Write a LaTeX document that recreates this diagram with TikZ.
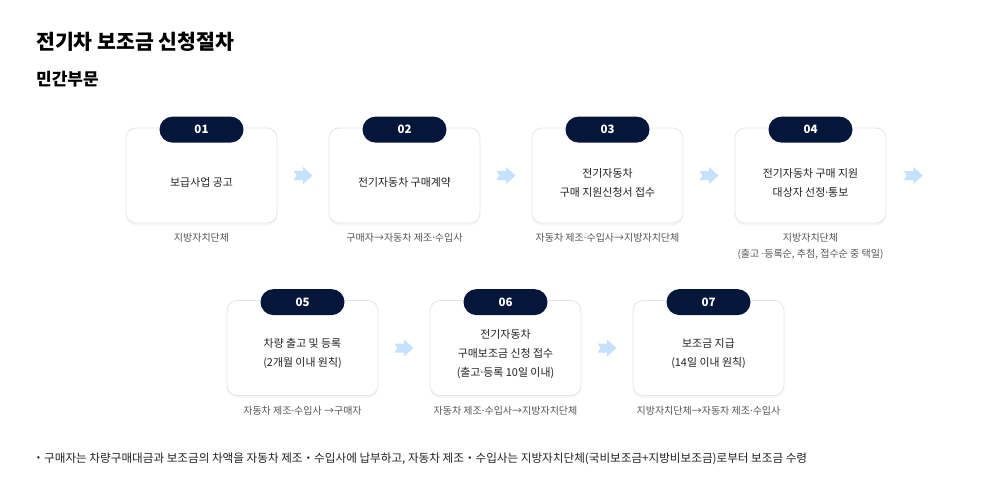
\documentclass[tikz,border=0pt]{standalone}
\usepackage{fontspec}
\setmainfont{Noto Sans CJK KR}
\newfontfamily\latinsans{Noto Sans}
\newcommand\mdot{{\latinsans ·}}
\usetikzlibrary{positioning,calc,shadows}
\definecolor{navy}{HTML}{04163A}
\definecolor{skyarrow}{HTML}{C4E1FF}
\definecolor{boxline}{HTML}{E6E6E6}
\definecolor{labelgray}{HTML}{555555}
\definecolor{bodytext}{HTML}{222222}

\tikzset{
  stepbox/.style={draw=boxline, line width=0.8pt, fill=white, rounded corners=10pt,
    minimum width=151pt, minimum height=95pt,
    drop shadow={opacity=0.07, shadow xshift=0pt, shadow yshift=-2.5pt}},
  stepnum/.style={fill=navy, text=white, rounded corners=13pt, minimum width=84pt,
    minimum height=26pt, inner sep=0pt, font=\fontsize{11.5}{13}\selectfont\bfseries},
  steptext/.style={align=center, text=bodytext, inner sep=0pt, font=\fontsize{10.9}{19}\selectfont},
  steplabel/.style={align=center, text=labelgray, inner sep=0pt, font=\fontsize{10}{16}\selectfont},
  pics/steparrow/.style={code={
    \fill[skyarrow] (-9.5,-4.5) -- (0,-4.5) -- (0,-8.5) -- (9.5,0) -- (0,8.5) -- (0,4.5)
      -- (-9.5,4.5) -- (-6.5,0) -- cycle;}}
}

\begin{document}
\begin{tikzpicture}[x=1pt,y=-1pt]
      \useasboundingbox[fill=white] (0,0) rectangle (993,501);

      \node[anchor=west, inner sep=0pt, font=\fontsize{20.5}{24}\selectfont\bfseries] (title) at (36,42) {전기차 보조금 신청절차};
      \node[anchor=west, inner sep=0pt, font=\fontsize{17}{20}\selectfont\bfseries] (subtitle) at (36,79) {민간부문};

      % first row
      \node[stepbox] (box1) at (201.5,175.5) {};
      \node[stepbox] (box2) at (404.5,175.5) {};
      \node[stepbox] (box3) at (607.5,175.5) {};
      \node[stepbox] (box4) at (810.5,175.5) {};
      % second row
      \node[stepbox] (box5) at (302.5,348) {};
      \node[stepbox] (box6) at (505.5,348) {};
      \node[stepbox] (box7) at (708.5,348) {};

      \node[stepnum] (num1) at ($(box1.north)+(0,2)$) {01};
      \node[stepnum] (num2) at ($(box2.north)+(0,2)$) {02};
      \node[stepnum] (num3) at ($(box3.north)+(0,2)$) {03};
      \node[stepnum] (num4) at ($(box4.north)+(0,2)$) {04};
      \node[stepnum] (num5) at ($(box5.north)+(0,2)$) {05};
      \node[stepnum] (num6) at ($(box6.north)+(0,2)$) {06};
      \node[stepnum] (num7) at ($(box7.north)+(0,2)$) {07};

      \node[steptext] (txt1) at ($(box1.center)+(0,7)$) {보급사업 공고};
      \node[steptext] (txt2) at ($(box2.center)+(0,7)$) {전기자동차 구매계약};
      \node[steptext] (txt3) at ($(box3.center)+(0,7)$) {전기자동차\\구매 지원신청서 접수};
      \node[steptext] (txt4) at ($(box4.center)+(0,7)$) {전기자동차 구매 지원\\대상자 선정\mdot 통보};
      \node[steptext] (txt5) at ($(box5.center)+(0,6)$) {차량 출고 및 등록\\(2개월 이내 원칙)};
      \node[steptext] (txt6) at ($(box6.center)+(0,6)$) {전기자동차\\구매보조금 신청 접수\\(출고\mdot 등록 10일 이내)};
      \node[steptext] (txt7) at ($(box7.center)+(0,6)$) {보조금 지급\\(14일 이내 원칙)};

      \node[steplabel, below=10pt of box1] (lab1) {지방자치단체};
      \node[steplabel, below=10pt of box2] (lab2) {구매자→자동차 제조\mdot 수입사};
      \node[steplabel, below=10pt of box3] (lab3) {자동차 제조\mdot 수입사→지방자치단체};
      \node[steplabel, below=10pt of box4] (lab4) {지방자치단체\\(출고 \mdot 등록순, 추첨, 접수순 중 택일)};
      \node[steplabel, below=10pt of box5] (lab5) {자동차 제조\mdot 수입사 →구매자};
      \node[steplabel, below=10pt of box6] (lab6) {자동차 제조\mdot 수입사→지방자치단체};
      \node[steplabel, below=10pt of box7] (lab7) {지방자치단체→자동차 제조\mdot 수입사};

      \pic at ($(box1.east)!.5!(box2.west)$) {steparrow};
      \pic at ($(box2.east)!.5!(box3.west)$) {steparrow};
      \pic at ($(box3.east)!.5!(box4.west)$) {steparrow};
      \pic at ($(box4.east)+(27,0)$) {steparrow};
      \pic at ($(box5.east)!.5!(box6.west)$) {steparrow};
      \pic at ($(box6.east)!.5!(box7.west)$) {steparrow};

      \node[inner sep=0pt, text=bodytext, font=\latinsans\fontsize{10}{12}\selectfont] (bullet) at (38.5,459) {•};
      \node[anchor=west, inner sep=0pt, text=bodytext, font=\fontsize{11.6}{13}\selectfont] (note) at (44,459) {구매자는 차량구매대금과 보조금의 차액을 자동차 제조・수입사에 납부하고, 자동차 제조・수입사는 지방자치단체(국비보조금+지방비보조금)로부터 보조금 수령};
      %\draw[red] (0,459) -- (993,459);
\end{tikzpicture}
\end{document}
